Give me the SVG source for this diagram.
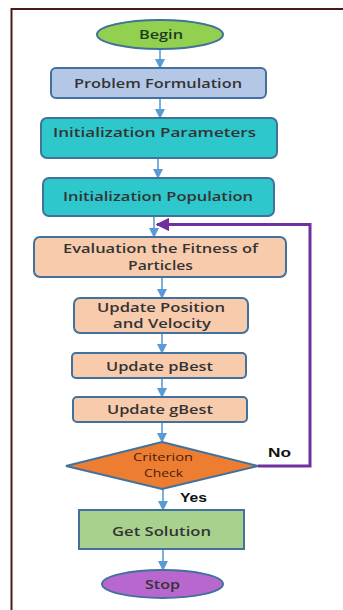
<svg xmlns="http://www.w3.org/2000/svg" width="343" height="610" viewBox="0 0 343 610">
<style>
.t{font-family:"Open Sans","Liberation Sans",sans-serif;font-weight:600;font-size:12.5px;fill:#333;text-anchor:middle}
.lbl{font-family:"Liberation Sans",Arial,sans-serif;font-weight:700;font-size:12.5px;fill:#111;text-anchor:middle}
.sh{stroke:#41719c;stroke-width:2}
.ar{stroke:#5b9bd5;stroke-width:1.6;fill:none;marker-end:url(#ah)}
</style>
<defs>
<marker id="ah" viewBox="0 0 10 10" refX="9" refY="5" markerWidth="6.5" markerHeight="6.5" markerUnits="strokeWidth" orient="auto">
<path d="M0,0 L10,5 L0,10 z" fill="#5b9bd5"/>
</marker>
<marker id="ahp" viewBox="0 0 10 10" refX="9" refY="5" markerWidth="4.5" markerHeight="4.5" markerUnits="strokeWidth" orient="auto">
<path d="M0,0 L10,5 L0,10 z" fill="#7030a0"/>
</marker>
</defs>
<rect width="343" height="610" fill="#fff"/>
<path d="M11.5,610 V9 H343" fill="none" stroke="#4a1a1a" stroke-width="2"/>
<g id="connectors">
<line class="ar" x1="160" y1="49" x2="160" y2="68"/>
<line class="ar" x1="160" y1="98" x2="160" y2="118"/>
<line class="ar" x1="158" y1="158" x2="158" y2="178"/>
<line class="ar" x1="154" y1="216" x2="154" y2="237"/>
<line class="ar" x1="162" y1="277" x2="162" y2="298"/>
<line class="ar" x1="162" y1="333" x2="162" y2="353"/>
<line class="ar" x1="162" y1="378" x2="162" y2="397"/>
<line class="ar" x1="162" y1="422" x2="162" y2="442"/>
<line class="ar" x1="163" y1="489" x2="163" y2="510"/>
<line class="ar" x1="163" y1="549" x2="163" y2="570"/>
<path d="M258,466 H310 V224.5 H157" fill="none" stroke="#7030a0" stroke-width="3" marker-end="url(#ahp)"/>
<text class="lbl" x="279.5" y="457" textLength="23" lengthAdjust="spacingAndGlyphs">No</text>
<text class="lbl" x="193.5" y="502" textLength="27" lengthAdjust="spacingAndGlyphs">Yes</text>
</g>
<g id="begin">
<ellipse class="sh" cx="160" cy="34.5" rx="63" ry="14.5" fill="#92d050"/>
<text class="t" x="161" y="38.5" textLength="44" lengthAdjust="spacingAndGlyphs" style="fill:#1e3b1e">Begin</text>
</g>
<g id="problem">
<rect class="sh" x="51" y="68" width="215" height="30" rx="5" fill="#b4c7e7"/>
<text class="t" x="158" y="87.5" textLength="168" lengthAdjust="spacingAndGlyphs">Problem Formulation</text>
</g>
<g id="initparam">
<rect class="sh" x="41" y="118" width="236" height="40" rx="6" fill="#2ec7cc"/>
<text class="t" x="154.5" y="137" textLength="203" lengthAdjust="spacingAndGlyphs">Initialization Parameters</text>
</g>
<g id="initpop">
<rect class="sh" x="43" y="178" width="231" height="38" rx="6" fill="#2ec7cc"/>
<text class="t" x="158" y="201" textLength="190" lengthAdjust="spacingAndGlyphs">Initialization Population</text>
</g>
<g id="eval">
<rect class="sh" x="34" y="237" width="252" height="40" rx="6" fill="#f8cbad"/>
<text class="t" x="160.5" y="253" textLength="195" lengthAdjust="spacingAndGlyphs">Evaluation the Fitness of</text>
<text class="t" x="160.5" y="269.5" textLength="65" lengthAdjust="spacingAndGlyphs">Particles</text>
</g>
<g id="updpos">
<rect class="sh" x="74" y="298" width="174" height="35" rx="6" fill="#f8cbad"/>
<text class="t" x="161" y="312" textLength="128" lengthAdjust="spacingAndGlyphs">Update Position</text>
<text class="t" x="162" y="328" textLength="98" lengthAdjust="spacingAndGlyphs">and Velocity</text>
</g>
<g id="pbest">
<rect class="sh" x="72" y="353" width="174" height="25" rx="4" fill="#f8cbad"/>
<text class="t" x="159.5" y="370.5" textLength="107" lengthAdjust="spacingAndGlyphs">Update pBest</text>
</g>
<g id="gbest">
<rect class="sh" x="73" y="397" width="174" height="25" rx="4" fill="#f8cbad"/>
<text class="t" x="160" y="413.5" textLength="106" lengthAdjust="spacingAndGlyphs">Update gBest</text>
</g>
<g id="criterion">
<polygon class="sh" points="162,442 258,466 162,489 66,466" fill="#ed7d31"/>
<text class="t" x="163" y="461" textLength="60" lengthAdjust="spacingAndGlyphs" style="font-size:11px;font-weight:400;fill:#4a200c">Criterion</text>
<text class="t" x="163.5" y="477" textLength="39" lengthAdjust="spacingAndGlyphs" style="font-size:11px;font-weight:400;fill:#4a200c">Check</text>
</g>
<g id="solution">
<rect class="sh" x="79" y="510" width="165" height="39" fill="#a9d18e"/>
<text class="t" x="161.5" y="536" textLength="99" lengthAdjust="spacingAndGlyphs">Get Solution</text>
</g>
<g id="stop">
<ellipse class="sh" cx="162.5" cy="584" rx="60.5" ry="14" fill="#b867cf"/>
<text class="t" x="162.5" y="588.5" textLength="35" lengthAdjust="spacingAndGlyphs">Stop</text>
</g>
</svg>
